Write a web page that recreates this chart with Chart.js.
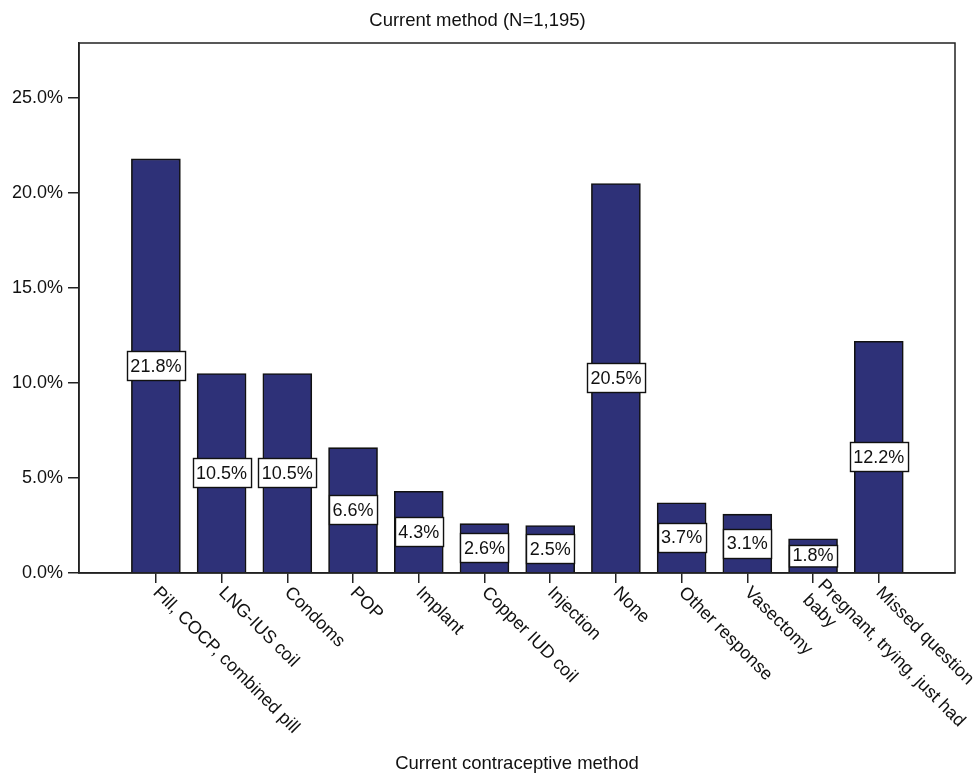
<!DOCTYPE html>
<html>
<head>
<meta charset="utf-8">
<script src="https://cdn.jsdelivr.net/npm/chart.js@4"></script>
<style>
  body { margin: 0; background: #fff; }
  canvas { display: block; }
</style>
</head>
<body>
<canvas id="methodChart" width="976" height="775"></canvas>
<script>
const categories = [
    'Pill, COCP, combined pill', 'LNG-IUS coil', 'Condoms', 'POP', 'Implant',
    'Copper IUD coil', 'Injection', 'None', 'Other response', 'Vasectomy',
    'Pregnant, trying, just had\nbaby', 'Missed question'
];
const percents = [21.8, 10.5, 10.5, 6.6, 4.3, 2.6, 2.5, 20.5, 3.7, 3.1, 1.8, 12.2];
const yTicks = [0, 5, 10, 15, 20, 25];

const FONT = '"Liberation Sans", Arial, sans-serif';
const INK = '#111';

// frame round the plot, boxed value labels and the slanted category names
const decorations = {
    id: 'decorations',
    afterDatasetsDraw(chart) {
        const c = chart.ctx;
        const meta = chart.getDatasetMeta(0);
        c.save();
        c.font = '18px ' + FONT;
        c.textAlign = 'center';
        c.textBaseline = 'middle';
        meta.data.forEach((bar, i) => {
            const txt = percents[i].toFixed(1) + '%';
            const mid = (bar.y + bar.base) / 2;
            const w = c.measureText(txt).width + 7;
            const h = Math.min(29, bar.base - bar.y - 12);
            const x0 = Math.round(bar.x - w / 2) + 0.5;
            const y0 = Math.round(mid - h / 2) + 0.5;
            c.fillStyle = '#fff';
            c.fillRect(x0, y0, w, h);
            c.strokeStyle = INK;
            c.lineWidth = 1.4;
            c.strokeRect(x0, y0, w, h);
            c.fillStyle = INK;
            c.fillText(txt, bar.x, mid + 1);
        });
        c.restore();
    },
    afterDraw(chart) {
        const c = chart.ctx;
        const a = chart.chartArea;
        const xs = chart.scales.x;
        c.save();
        c.strokeStyle = '#222';
        c.lineWidth = 1.5;
        c.strokeRect(a.left, a.top, a.right - a.left, a.bottom - a.top);

        c.font = '18px ' + FONT;
        c.fillStyle = INK;
        c.textAlign = 'left';
        c.textBaseline = 'middle';
        categories.forEach((name, i) => {
            const lines = name.split('\n');
            c.save();
            c.translate(xs.getPixelForValue(i), a.bottom + 17);
            c.rotate(Math.PI / 4);
            lines.forEach((ln, k) => {
                c.fillText(ln, 0, (k - (lines.length - 1) / 2) * 21);
            });
            c.restore();
        });
        c.restore();
    }
};

new Chart(document.getElementById('methodChart'), {
    type: 'bar',
    data: {
        datasets: [{
            data: percents.map((v, i) => ({ x: i, y: v })),
            backgroundColor: '#2e3178',
            borderColor: '#111',
            borderWidth: 1.6,
            barThickness: 49
        }]
    },
    options: {
        responsive: false,
        animation: false,
        devicePixelRatio: 1,
        layout: { padding: { top: 0, right: 21, bottom: 0, left: 0 } },
        plugins: {
            legend: { display: false },
            tooltip: { enabled: false },
            title: {
                display: true,
                text: 'Current method (N=1,195)',
                color: INK,
                font: { family: FONT, size: 18.5, weight: 'normal' },
                padding: { top: 10, bottom: 10.8 }
            }
        },
        scales: {
            x: {
                type: 'linear',
                offset: false,
                min: -1.17,
                max: 12.16,
                afterBuildTicks: s => { s.ticks = categories.map((c, i) => ({ value: i })); },
                afterFit: s => { s.height = 202; },
                ticks: { display: false },
                grid: { offset: false, drawOnChartArea: false, tickLength: 10, color: '#222', lineWidth: 1.5 },
                border: { color: '#222', width: 1.5 },
                title: {
                    display: true,
                    text: 'Current contraceptive method',
                    color: INK,
                    font: { family: FONT, size: 18.5 },
                    padding: { top: 0, bottom: 0 }
                }
            },
            y: {
                min: 0,
                max: 27.9,
                afterBuildTicks: s => { s.ticks = yTicks.map(v => ({ value: v })); },
                afterFit: s => { s.width = 79; },
                ticks: {
                    color: INK,
                    padding: 5,
                    font: { family: FONT, size: 18 },
                    callback: v => v.toFixed(1) + '%'
                },
                grid: { drawOnChartArea: false, tickLength: 11, color: '#222', lineWidth: 1.5 },
                border: { color: '#222', width: 1.5 }
            }
        }
    },
    plugins: [decorations]
});
</script>
</body>
</html>
